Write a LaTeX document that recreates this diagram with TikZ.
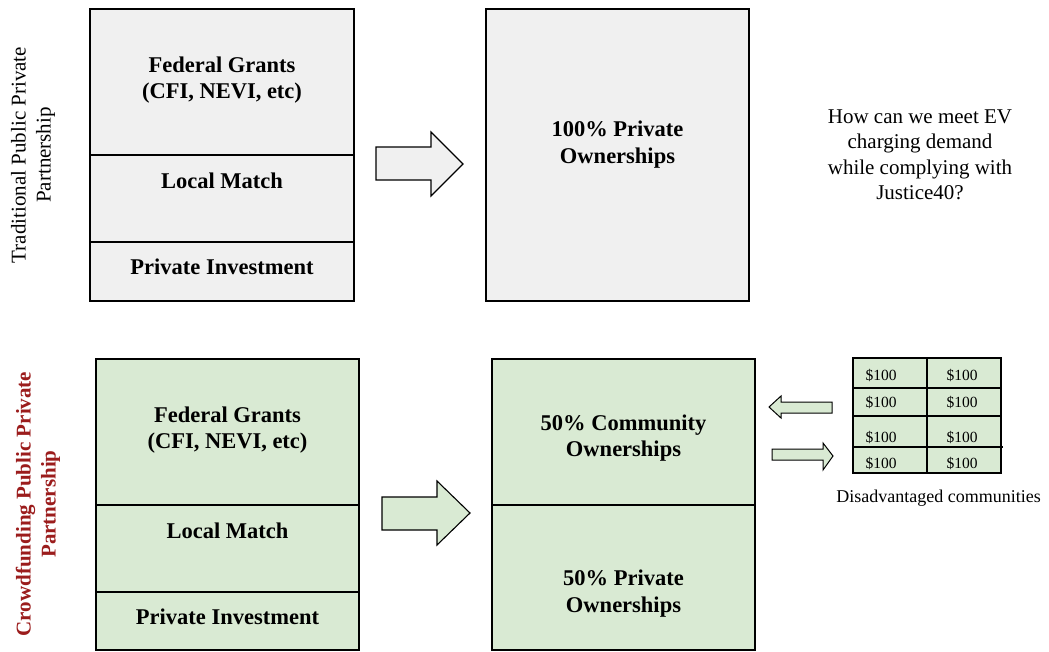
\documentclass[tikz,border=0pt]{standalone}
\usepackage{fontspec}
\setmainfont{Liberation Serif}
\definecolor{greyfill}{RGB}{240,240,240}
\definecolor{greenfill}{RGB}{217,234,211}
\definecolor{darkred}{RGB}{155,28,28}
\begin{document}
\begin{tikzpicture}[x=1pt,y=-1pt,
  outerbox/.style={draw=black,line width=2pt},
  divider/.style={draw=black,line width=1.2pt},
  bigtxt/.style={font=\fontsize{22.5}{26.5}\selectfont\bfseries,align=center,inner sep=0pt},
  plaintxt/.style={font=\fontsize{21}{25.5}\selectfont,align=center,inner sep=0pt},
  sidetxt/.style={rotate=90,align=center,inner sep=0pt},
  arrowshape/.style={draw=black,line width=1.1pt,line join=miter},
  celltxt/.style={font=\fontsize{15.5}{18}\selectfont,inner sep=0pt},
  celllines/.style={draw=black,line width=1.4pt}
]
\useasboundingbox (0,0) rectangle (1049,651);

% ---------- top row ----------
\node[sidetxt,font=\fontsize{21}{25}\selectfont] (tlabel) at (33,155) {Traditional Public Private\\Partnership};

\fill[greyfill] (90,9) rectangle (354,301);
\draw[divider] (90,155) -- (354,155);
\draw[divider] (90,242) -- (354,242);
\draw[outerbox] (90,9) rectangle (354,301);
\node[bigtxt] (tfg) at (222,80) {Federal Grants\\(CFI, NEVI, etc)};
\node[bigtxt] (tlm) at (222,181) {Local Match};
\node[bigtxt] (tpi) at (222,267) {Private Investment};

\filldraw[arrowshape,fill=greyfill] (376,147) -- (431,147) -- (431,132) -- (463,164) -- (431,196) -- (431,180) -- (376,180) -- cycle;

\fill[greyfill] (486,9) rectangle (749,301);
\draw[outerbox] (486,9) rectangle (749,301);
\node[bigtxt] (tpo) at (617.5,144.5) {100\% Private\\Ownerships};

\node[plaintxt] (q) at (920,155) {How can we meet EV\\charging demand\\while complying with\\Justice40?};

% ---------- bottom row ----------
\node[sidetxt,font=\fontsize{21}{25}\selectfont\bfseries,text=darkred] (blabel) at (38,504) {Crowdfunding Public Private\\Partnership};

\fill[greenfill] (96,359) rectangle (359,650);
\draw[divider] (96,505) -- (359,505);
\draw[divider] (96,592) -- (359,592);
\draw[outerbox] (96,359) rectangle (359,650);
\node[bigtxt] (bfg) at (227.5,430) {Federal Grants\\(CFI, NEVI, etc)};
\node[bigtxt] (blm) at (227.5,530.5) {Local Match};
\node[bigtxt] (bpi) at (227.5,617) {Private Investment};

\filldraw[arrowshape,fill=greenfill] (382,497) -- (437,497) -- (437,481) -- (470,513) -- (437,545) -- (437,530) -- (382,530) -- cycle;

\fill[greenfill] (492,359) rectangle (755,650);
\draw[divider] (492,505) -- (755,505);
\draw[outerbox] (492,359) rectangle (755,650);
\node[bigtxt] (bco) at (623.5,438) {50\% Community\\Ownerships};
\node[bigtxt] (bpo) at (623.5,593.5) {50\% Private\\Ownerships};

% small arrows
\filldraw[arrowshape,fill=greenfill,line width=1pt] (832,402) -- (781,402) -- (781,396) -- (769,407) -- (781,418) -- (781,413) -- (832,413) -- cycle;
\filldraw[arrowshape,fill=greenfill,line width=1pt] (772,449) -- (823,449) -- (823,443) -- (833,456) -- (823,470) -- (823,460) -- (772,460) -- cycle;

% table
\fill[greenfill] (853,358) rectangle (1001,473);
\draw[celllines] (853,388) -- (1001,388);
\draw[celllines] (853,416) -- (1001,416);
\draw[celllines] (853,447) -- (1003,447);
\draw[celllines] (927,358) -- (927,473);
\draw[celllines] (853,358) rectangle (1001,473);
\node[celltxt] (c11) at (881,375) {\$100};
\node[celltxt] (c12) at (962,375) {\$100};
\node[celltxt] (c21) at (881,402) {\$100};
\node[celltxt] (c22) at (962,402) {\$100};
\node[celltxt] (c31) at (881,437) {\$100};
\node[celltxt] (c32) at (962,437) {\$100};
\node[celltxt] (c41) at (881,463) {\$100};
\node[celltxt] (c42) at (962,463) {\$100};
\node[font=\fontsize{18}{20}\selectfont,inner sep=0pt] (dc) at (938.5,498) {Disadvantaged communities};
\end{tikzpicture}
\end{document}
